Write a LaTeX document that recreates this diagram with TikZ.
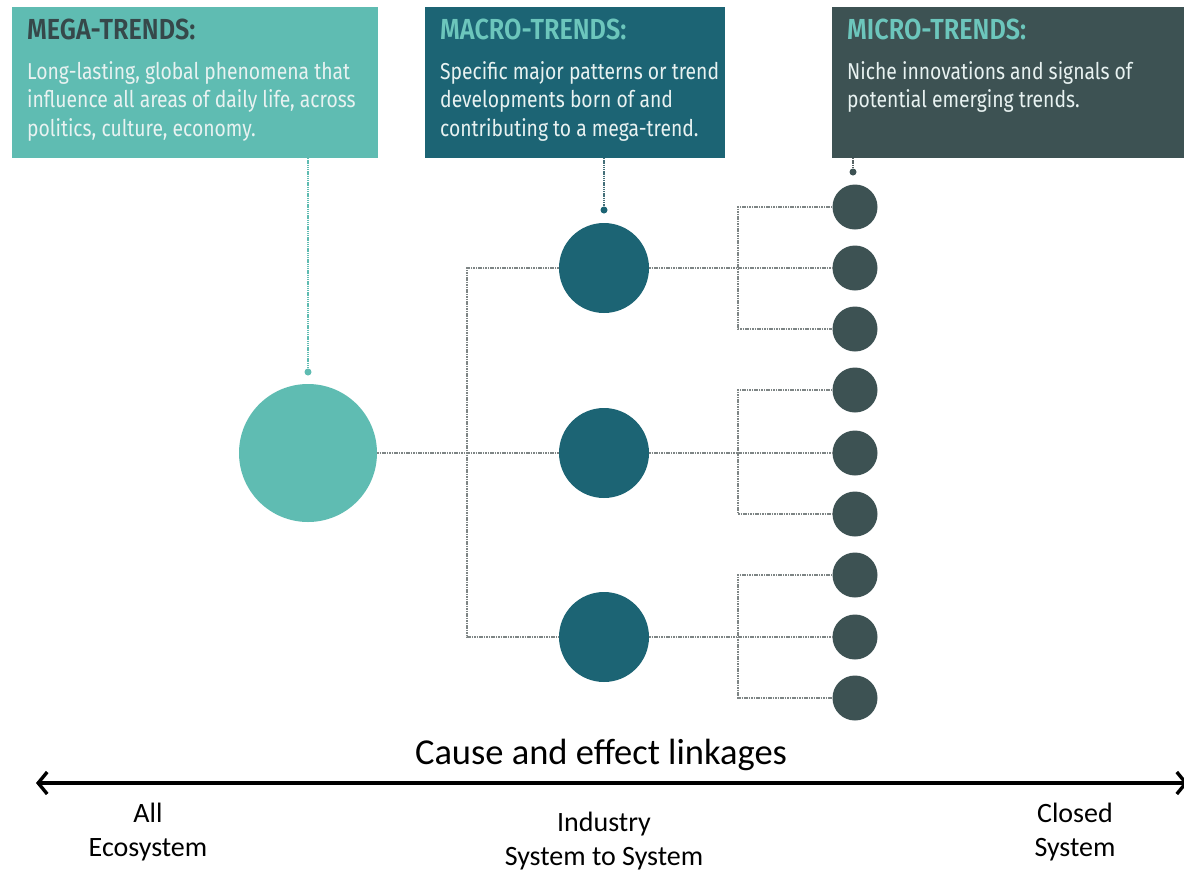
\documentclass[tikz,border=0pt]{standalone}
\usepackage{fontspec}
\setmainfont{Carlito}
\newfontfamily\condfont[FakeStretch=0.84]{Fira Sans}
\newfontfamily\condbold[FakeStretch=0.87]{Fira Sans SemiBold}
\usetikzlibrary{arrows.meta}
\definecolor{megacol}{HTML}{5FBCB2}
\definecolor{macrocol}{HTML}{1C6474}
\definecolor{microcol}{HTML}{3D5253}
\definecolor{titleteal}{HTML}{6CC6BC}
\definecolor{titledark}{HTML}{36484A}
\definecolor{bodylight}{HTML}{E8F2F1}
\definecolor{linkgray}{HTML}{7E8585}
\tikzset{
  boxtitle/.style={anchor=north west, inner sep=0pt, font=\condbold\fontsize{29}{32}\selectfont},
  boxbody/.style={anchor=north west, inner sep=0pt, align=left, text=bodylight,
    font=\condfont\fontsize{23}{28.5}\selectfont},
  link/.style={draw=linkgray, line width=2.4pt, dash pattern=on 1.6pt off 0.8pt},
  pinlink/.style={line width=1.6pt, dash pattern=on 1.4pt off 0.8pt},
  megadot/.style={circle, fill=megacol, inner sep=0pt, minimum size=138pt},
  macrodot/.style={circle, fill=macrocol, inner sep=0pt, minimum size=90pt},
  microdot/.style={circle, fill=microcol, inner sep=0pt, minimum size=45pt},
  pin/.style={circle, inner sep=0pt, minimum size=7pt},
  axislabel/.style={align=center, font=\fontsize{28}{34}\selectfont}
}
\begin{document}
\begin{tikzpicture}[x=1pt, y=-1pt]
\useasboundingbox (0,0) rectangle (1184,871);
\fill[white] (0,0) rectangle (1184,871);

% Header boxes
\fill[megacol] (12,7) rectangle (378,158);
\fill[macrocol] (425,7) rectangle (725,158);
\fill[microcol] (832,7) rectangle (1184,158);
\coordinate (megabox) at (308,158);
\coordinate (macrobox) at (604,158);
\coordinate (microbox) at (853,158);

\node[boxtitle, text=titledark] (megatitle) at (27,19) {MEGA-TRENDS:};
\node[boxtitle, text=titleteal] (macrotitle) at (440,19) {MACRO-TRENDS:};
\node[boxtitle, text=titleteal] (microtitle) at (847,19) {MICRO-TRENDS:};
\node[boxbody] (megatext) at (27,61) {Long-lasting, global phenomena that\\influence all areas of daily life, across\\politics, culture, economy.};
\node[boxbody] (macrotext) at (440,61) {Specific major patterns or trend\\developments born of and\\contributing to a mega-trend.};
\node[boxbody] (microtext) at (847,61) {Niche innovations and signals of\\potential emerging trends.};

% Circles
\node[megadot] (mega) at (308,453) {};
\node[macrodot] (ma1) at (604,268) {};
\node[macrodot] (ma2) at (604,453) {};
\node[macrodot] (ma3) at (604,637) {};
\foreach \i/\y in {1/207,2/268,3/329,4/390,5/453,6/514,7/575,8/637,9/698}
  \node[microdot] (mi\i) at (855,\y) {};

% Pins under the header boxes
\node[pin, fill=megacol] (megapin) at (308,372) {};
\node[pin, fill=macrocol] (macropin) at (604,210) {};
\node[pin, fill=microcol] (micropin) at (853,172) {};
\draw[pinlink, draw=megacol] (megabox) -- (megapin);
\draw[pinlink, draw=macrocol!60!gray] (macrobox) -- (macropin);
\draw[pinlink, draw=microcol!60!gray] (microbox) -- (micropin);

% Mega to macro links
\coordinate (trunk) at (467,453);
\draw[link] (mega.east) -- (ma2.west);
\draw[link] (ma1.west) -| (trunk) |- (ma3.west);

% Macro to micro links
\draw[link] (ma1.east) -- (mi2.west);
\draw[link] (mi1.west) -| (738,268) |- (mi3.west);
\draw[link] (ma2.east) -- (mi5.west);
\draw[link] (mi4.west) -| (738,453) |- (mi6.west);
\draw[link] (ma3.east) -- (mi8.west);
\draw[link] (mi7.west) -| (738,637) |- (mi9.west);

% Axis
\coordinate (axl) at (36,783);
\coordinate (axr) at (1188,783);
\draw[line width=3.6pt, {Straight Barb[length=9pt,width=22pt,line width=3.4pt]}-{Straight Barb[length=9pt,width=22pt,line width=3.4pt]}] (axl) -- (axr);
\node[font=\fontsize{36.5}{40}\selectfont] (axtitle) at (601,755) {Cause and effect linkages};
\node[axislabel] (lab1) at (148,832) {All\\Ecosystem};
\node[axislabel] (lab2) at (604,841) {Industry\\System to System};
\node[axislabel] (lab3) at (1075,832) {Closed\\System};
\end{tikzpicture}
\end{document}
